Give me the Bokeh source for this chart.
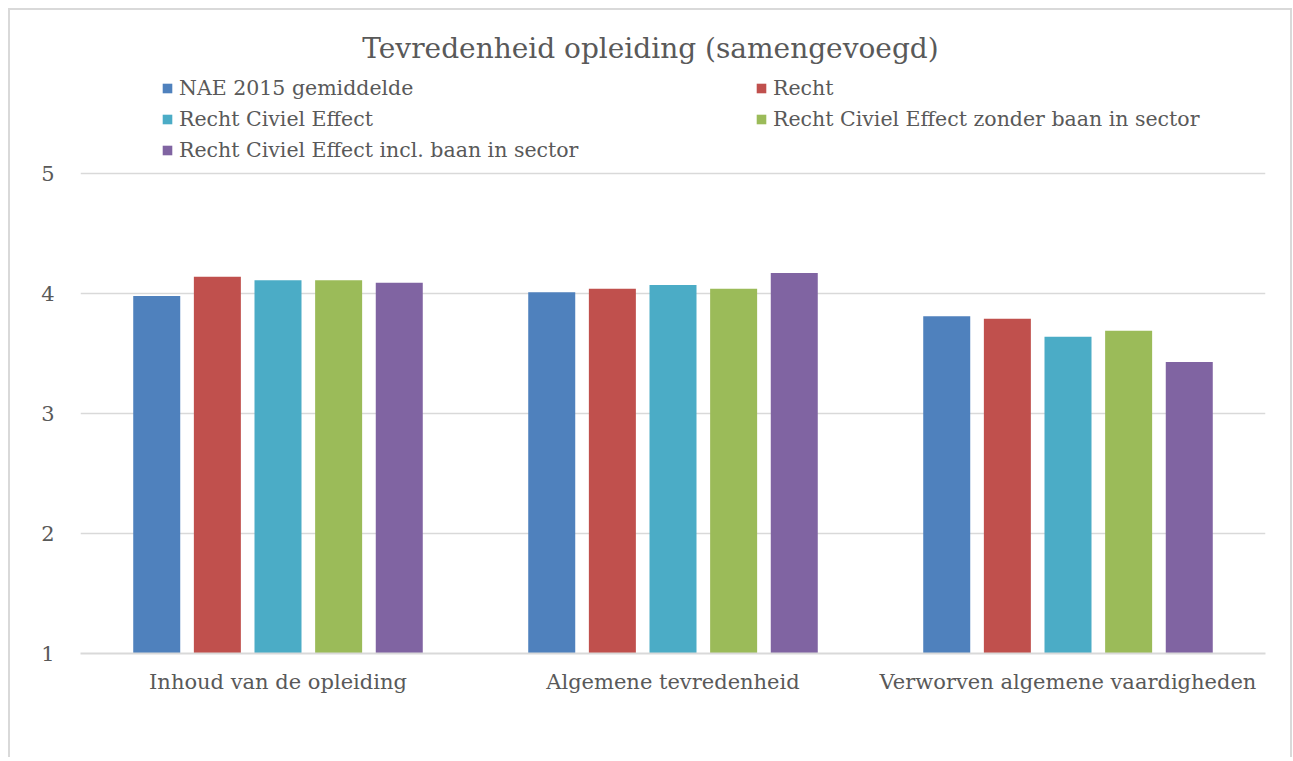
from bokeh.plotting import figure
from bokeh.models import ColumnDataSource, FactorRange, Range1d, FixedTicker, Legend, LegendItem, Label
from bokeh.transform import dodge
from bokeh.embed import file_html
from bokeh.resources import INLINE

categories = ["Inhoud van de opleiding", "Algemene tevredenheid", "Verworven algemene vaardigheden"]
series_names = [
    "NAE 2015 gemiddelde",
    "Recht",
    "Recht Civiel Effect",
    "Recht Civiel Effect zonder baan in sector",
    "Recht Civiel Effect incl. baan in sector",
]
nae_2015 = [3.98, 4.01, 3.81]
recht = [4.14, 4.04, 3.79]
recht_civiel = [4.11, 4.07, 3.64]
recht_civiel_zonder = [4.11, 4.04, 3.69]
recht_civiel_incl = [4.09, 4.17, 3.43]
y_ticks = [1, 2, 3, 4, 5]
colors = ["#4F81BD", "#C0504D", "#4BACC6", "#9BBB59", "#8064A2"]

FONT = "DejaVu Serif"
TXT = "#595959"
GRID = "#d9d9d9"

source = ColumnDataSource(dict(
    cat=categories,
    s0=nae_2015, s1=recht, s2=recht_civiel, s3=recht_civiel_zonder, s4=recht_civiel_incl,
))

W, H = 1284, 749
mbl, mbr, mbb, mbt = 70, 29, 106, 0
frame_h = H - mbb - mbt
y_end = 1 + frame_h / 120.0

p = figure(
    width=W, height=H,
    x_range=FactorRange(*categories, range_padding=0),
    y_range=Range1d(1, y_end),
    output_backend="svg", toolbar_location=None,
    min_border_left=mbl, min_border_right=mbr, min_border_bottom=mbb, min_border_top=mbt,
)
p.title.visible = False
p.outline_line_color = None
p.background_fill_color = "white"
p.border_fill_color = "white"
p.styles = {"border": "2px solid #d9d9d9", "border-bottom": "none",
            "margin-left": "8px", "margin-top": "8px"}

offsets = [-0.307, -0.1535, 0.0, 0.1535, 0.307]
renderers = []
for i, off in enumerate(offsets):
    r = p.vbar(x=dodge("cat", off, range=p.x_range), top=f"s{i}", bottom=1, width=0.119,
               source=source, fill_color=colors[i], line_color=None)
    renderers.append(r)

p.xgrid.grid_line_color = None
p.ygrid.grid_line_color = GRID
p.ygrid.grid_line_width = 1.3
p.yaxis.ticker = FixedTicker(ticks=y_ticks)
p.yaxis.axis_line_color = None
p.yaxis.major_tick_line_color = None
p.yaxis.minor_tick_line_color = None
p.yaxis.major_label_standoff = 20
p.yaxis.major_label_text_font = FONT
p.yaxis.major_label_text_font_size = "21px"
p.yaxis.major_label_text_color = TXT

p.xaxis.axis_line_color = GRID
p.xaxis.axis_line_width = 2
p.xaxis.major_tick_line_color = None
p.xaxis.major_label_standoff = 10
p.xaxis.major_label_text_font = FONT
p.xaxis.major_label_text_font_size = "21px"
p.xaxis.major_label_text_color = TXT

# Title (inside frame area, above plot)
title = Label(x=570, y=frame_h - 38, x_units="screen", y_units="screen",
              text="Tevredenheid opleiding (samengevoegd)", text_align="center",
              text_baseline="middle", text_font=FONT, text_font_size="28px", text_color=TXT)
p.add_layout(title)

# row-major display order in a 2-column, column-filled legend
order = [0, 2, 4, 1, 3]
items = [LegendItem(label=series_names[i], renderers=[renderers[i]]) for i in order]
legend = Legend(items=items, ncols=2, location=(81, 488),
                label_text_font=FONT, label_text_font_size="20.5px", label_text_color=TXT,
                glyph_width=12, glyph_height=12, label_standoff=6,
                label_width=576, label_height=31, spacing=0, padding=0, margin=0,
                border_line_color=None, background_fill_alpha=0)
p.add_layout(legend, "center")

open("out.html", "w").write(file_html(p, INLINE))
